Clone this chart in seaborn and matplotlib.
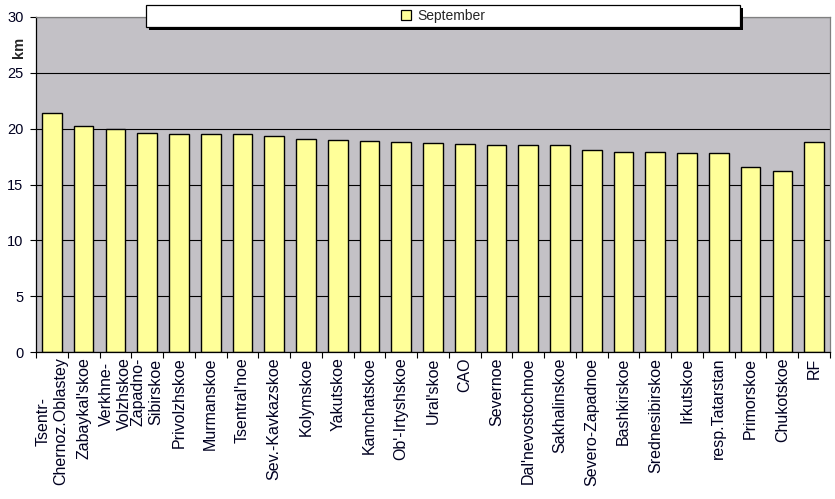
import numpy as np
import pandas as pd
import matplotlib
matplotlib.use("Agg")
import matplotlib.pyplot as plt
from matplotlib.patches import Rectangle, Patch
import seaborn as sns

# Data (September, km)
regions = ["Tsentr-\nChernoz.Oblastey", "Zabaykal'skoe", "Verkhne-\nVolzhskoe",
           "Zapadno-\nSibirskoe", "Privolzhskoe", "Murmanskoe", "Tsentral'noe",
           "Sev.-Kavkazskoe", "Kolymskoe", "Yakutskoe", "Kamchatskoe",
           "Ob'-Irtyshskoe", "Ural'skoe", "CAO", "Severnoe", "Dal'nevostochnoe",
           "Sakhalinskoe", "Severo-Zapadnoe", "Bashkirskoe", "Srednesibirskoe",
           "Irkutskoe", "resp.Tatarstan", "Primorskoe", "Chukotskoe", "RF"]
september = [21.4, 20.2, 20.0, 19.6, 19.5, 19.5, 19.5, 19.3, 19.1, 19.0, 18.9,
             18.85, 18.7, 18.6, 18.5, 18.5, 18.5, 18.05, 17.95, 17.9, 17.8,
             17.8, 16.6, 16.2, 18.85]
y_ticks = [0, 5, 10, 15, 20, 25, 30]
series_name = "September"

bar_color = "#FFFF99"
plot_bg = "#C3C1C6"

sns.set_theme(style="ticks")
plt.rcParams['font.family'] = ['Liberation Sans', 'DejaVu Sans']

df = pd.DataFrame({"region": regions, "km": september})

fig = plt.figure(figsize=(8.35, 4.99), dpi=100)
ax = fig.add_axes([36 / 835, 1 - 352 / 499, 794 / 835, 335 / 499])
ax.set_facecolor(plot_bg)

sns.barplot(data=df, x="region", y="km", color=bar_color, saturation=1,
            edgecolor="black", linewidth=1.0, width=0.62, ax=ax)

# y axis
ax.set_ylim(0, 30)
ax.set_yticks(y_ticks)
ax.set_yticklabels([str(t) for t in y_ticks], fontsize=10.5, color="#000020")
ax.tick_params(axis="y", direction="out", length=4, width=0.8, pad=5, color="black")
ax.yaxis.grid(True, color="black", linewidth=0.8)
ax.set_axisbelow(True)
ax.set_ylabel("km", fontsize=10.5, fontweight="bold")
ax.yaxis.set_label_coords(-0.0125, 0.91)

# x axis: labels at bar centres, tick marks between categories
n = len(regions)
ax.set_xlim(-0.5, n - 0.5)
ax.set_xticks(np.arange(n))
ax.set_xticklabels(regions, rotation=90, fontsize=11.5, ha="center", va="top",
                   multialignment="center", linespacing=1.2, color="#000020")
ax.set_xticks(np.arange(-0.5, n, 1), minor=True)
ax.tick_params(axis="x", which="major", length=0, pad=4)
ax.tick_params(axis="x", which="minor", direction="out", length=4, width=0.8,
               color="black")
ax.set_xlabel("")

for side in ["left", "bottom"]:
    ax.spines[side].set_color("black")
    ax.spines[side].set_linewidth(0.9)
for side in ["top", "right"]:
    ax.spines[side].set_color("#808080")
    ax.spines[side].set_linewidth(0.9)

# legend box with shadow across the top
shadow = Rectangle((149 / 835, 1 - 30 / 499), 594 / 835, 22 / 499,
                   transform=fig.transFigure, facecolor="black", edgecolor="none",
                   zorder=3)
box = Rectangle((146 / 835, 1 - 27 / 499), 594 / 835, 22 / 499,
                transform=fig.transFigure, facecolor="white", edgecolor="black",
                linewidth=0.9, zorder=4)
fig.patches.extend([shadow, box])
handle = Patch(facecolor=bar_color, edgecolor="black", linewidth=0.9, label=series_name)
fig.legend(handles=[handle], loc="center", bbox_to_anchor=(443 / 835, 1 - 16 / 499),
           frameon=False, fontsize=10, handlelength=0.75, handleheight=0.75,
           handletextpad=0.4, borderpad=0)

fig.savefig("out.png", dpi=100)
